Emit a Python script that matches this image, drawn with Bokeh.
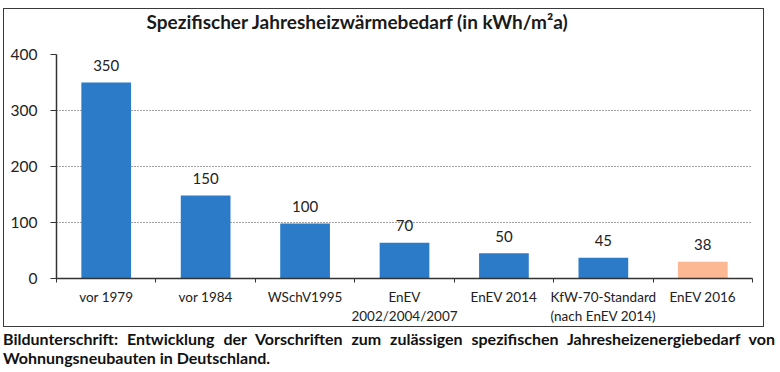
from bokeh.plotting import figure
from bokeh.models import (ColumnDataSource, Range1d, FixedTicker, Title, Div)
from bokeh.layouts import column
from bokeh.core.properties import value
from bokeh.embed import file_html
from bokeh.resources import INLINE

# ---- data ----
categories = ["vor 1979", "vor 1984", "WSchV1995", "EnEV\n2002/2004/2007",
              "EnEV 2014", "KfW-70-Standard\n(nach EnEV 2014)", "EnEV 2016"]
bar_values = [350, 148, 98, 64, 45, 37, 30]
value_labels = ["350", "150", "100", "70", "50", "45", "38"]
bar_colors = ["#2b7bc9", "#2b7bc9", "#2b7bc9", "#2b7bc9", "#2b7bc9", "#2b7bc9", "#fbb893"]
y_ticks = [0, 100, 200, 300, 400]
title_text = "Spezifischer Jahresheizwärmebedarf (in kWh/m²a)"
caption_line1 = "Bildunterschrift: Entwicklung der Vorschriften zum zulässigen spezifischen Jahresheizenergiebedarf von"
caption_line2 = "Wohnungsneubauten in Deutschland."

FONT = "Lato"
n = len(categories)
centers = [i + 0.5 for i in range(n)]
boundaries = list(range(n + 1))

src = ColumnDataSource(dict(x=centers, top=bar_values, lab=value_labels, color=bar_colors))

p = figure(width=761, height=319, output_backend="svg", toolbar_location=None,
           x_range=Range1d(0, n), y_range=Range1d(0, 400),
           min_border_left=52, min_border_right=13, min_border_top=45, min_border_bottom=50,
           margin=(8, 0, 0, 3),
           styles={"border": "1.5px solid #3a3a3a"})
p.outline_line_color = None
p.background_fill_color = "white"
p.border_fill_color = "white"

p.vbar(x="x", top="top", width=0.5, bottom=0, source=src, fill_color="color", line_color=None)
p.text(x="x", y="top", text="lab", source=src, text_align="center", text_baseline="middle",
       y_offset=-17, text_font=value(FONT), text_font_size="15px", text_color="#222222")

# spacer between frame and title, then the title itself (outermost)
p.add_layout(Title(text=" ", text_font_size="2px", standoff=16), "above")
p.add_layout(Title(text=title_text, align="left", offset=90, standoff=0, vertical_align="top",
                   text_font=FONT, text_font_size="19px", text_font_style="bold",
                   text_color="#1a1a1a"), "above")

# y axis
p.yaxis.ticker = FixedTicker(ticks=y_ticks)
p.yaxis.axis_line_color = "#333333"
p.yaxis.axis_line_width = 1.5
p.yaxis.major_tick_out = 6
p.yaxis.major_tick_in = 0
p.yaxis.major_tick_line_color = "#333333"
p.yaxis.minor_tick_line_color = None
p.yaxis.major_label_text_font = FONT
p.yaxis.major_label_text_font_size = "15.5px"
p.yaxis.major_label_text_color = "#222222"
p.yaxis.major_label_standoff = 13

# x axis: labels at centres, small ticks at category boundaries
p.xaxis.ticker = FixedTicker(ticks=centers, minor_ticks=boundaries)
p.xaxis.major_label_overrides = {c: lab for c, lab in zip(centers, categories)}
p.xaxis.major_tick_out = 0
p.xaxis.major_tick_in = 0
p.xaxis.minor_tick_out = 4
p.xaxis.minor_tick_in = 0
p.xaxis.minor_tick_line_color = "#333333"
p.xaxis.axis_line_color = "#333333"
p.xaxis.axis_line_width = 1.5
p.xaxis.major_label_text_font = FONT
p.xaxis.major_label_text_font_size = "13.5px"
p.xaxis.major_label_text_color = "#222222"
p.xaxis.major_label_standoff = 6

p.xgrid.grid_line_color = None
p.ygrid.ticker = FixedTicker(ticks=y_ticks)
p.ygrid.grid_line_color = "#444444"
p.ygrid.grid_line_dash = "1 2"
p.ygrid.grid_line_width = 1

caption = Div(
    text=(f'<div style="width:772px;text-align:justify;text-align-last:justify;">{caption_line1}</div>'
          f'<div style="width:772px;">{caption_line2}</div>'),
    width=772,
    styles={"font-family": FONT, "font-weight": "700", "font-size": "16px",
            "line-height": "18.5px", "color": "#111111"},
    margin=(3, 0, 0, 3),
)

layout = column(p, caption, spacing=0)

with open("out.html", "w") as f:
    f.write(file_html(layout, INLINE))
